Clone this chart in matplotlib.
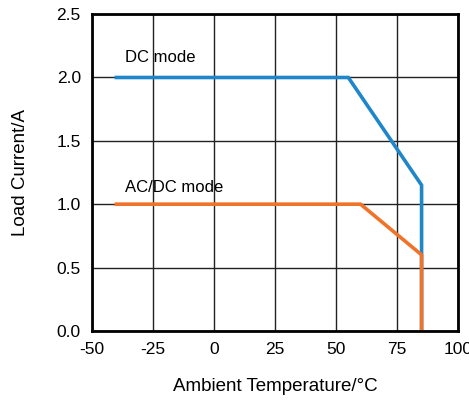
import matplotlib.pyplot as plt

plt.rcParams['font.family'] = ['Liberation Sans', 'DejaVu Sans']
plt.rcParams['axes.unicode_minus'] = False

# derating curves
dc_temp = [-40, 55, 85, 85]
dc_current = [2.0, 2.0, 1.15, 0.0]
acdc_temp = [-40, 60, 85, 85]
acdc_current = [1.0, 1.0, 0.6, 0.0]

x_ticks = [-50, -25, 0, 25, 50, 75, 100]
y_ticks = [0.0, 0.5, 1.0, 1.5, 2.0, 2.5]

fig = plt.figure(figsize=(4.69, 4.04), dpi=100)
ax = fig.add_axes([0.196, 0.181, 0.781, 0.784])

ax.plot(dc_temp, dc_current, color="#1f87c9", linewidth=2.6, solid_joinstyle="miter", zorder=3)
ax.plot(acdc_temp, acdc_current, color="#f0732a", linewidth=2.6, solid_joinstyle="miter", zorder=4)

ax.text(-36.5, 2.1, "DC mode", fontsize=12, ha="left", va="bottom")
ax.text(-36.5, 1.07, "AC/DC mode", fontsize=12, ha="left", va="bottom")

ax.set_xlim(-50, 100)
ax.set_ylim(0, 2.5)
ax.set_xticks(x_ticks)
ax.set_yticks(y_ticks)
ax.set_yticklabels([f"{v:.1f}" for v in y_ticks])
ax.grid(True, color="#222222", linewidth=1.0)
ax.set_axisbelow(True)
ax.tick_params(length=0, labelsize=12.5, pad=8)
for sp in ax.spines.values():
    sp.set_linewidth(2.0)
    sp.set_zorder(5)

ax.set_xlabel("Ambient Temperature/°C", fontsize=13.5, labelpad=15)
ax.set_ylabel("Load Current/A", fontsize=13.5, labelpad=20)

fig.savefig("out.png", dpi=100)
plt.close(fig)
